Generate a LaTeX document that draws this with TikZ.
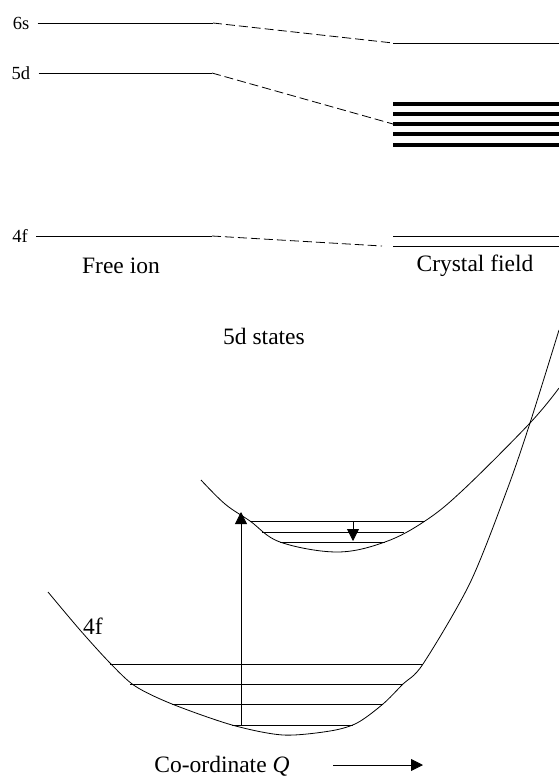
\documentclass[tikz,border=0pt]{standalone}
\usepackage{fontspec}
\setmainfont{Liberation Serif}
\usetikzlibrary{arrows.meta}
\tikzset{
  lvltext/.style={font=\fontsize{18.5}{22}\selectfont, inner sep=0pt},
  bigtext/.style={font=\fontsize{23.5}{28}\selectfont, inner sep=0pt},
  splitline/.style={dash pattern=on 9pt off 4pt},
  cfline/.style={line width=4pt},
  tip/.style={-{Triangle[length=12pt,width=12pt]}}
}
\begin{document}
\begin{tikzpicture}[x=1pt,y=-1pt,line width=0.8pt]
    \useasboundingbox (0,0) rectangle (559,777);

    % free ion levels
    \node[lvltext] (l6s) at (21,23) {6s};
    \node[lvltext] (l5d) at (21,73) {5d};
    \node[lvltext] (l4f) at (20,236) {4f};
    \coordinate (f6s) at (213,23);
    \coordinate (f5d) at (212,73);
    \coordinate (f4f) at (212,236);
    \draw ([xshift=8pt]l6s.east) -- (f6s);
    \draw ([xshift=8pt]l5d.east) -- (f5d);
    \draw ([xshift=8pt]l4f.east) -- (f4f);

    % crystal field levels
    \coordinate (c6s) at (393,43);
    \coordinate (c5d) at (393,124);
    \coordinate (c4f) at (382,246);
    \draw[splitline] (f6s) -- (c6s);
    \draw[splitline] (f5d) -- (c5d);
    \draw[splitline] (f4f) -- (c4f);
    \draw (c6s) -- (559,43);
    \foreach \y in {104,114,124,134,145}
        \draw[cfline] (393,\y) -- (559,\y);
    \draw (393,236) -- (559,236);
    \draw (393,246) -- (559,246);

    \node[bigtext] (freeion) at (121,266) {Free ion};
    \node[bigtext] (crystal) at (475,266) {Crystal field};

    % configurational coordinate curves
    \draw plot[smooth, tension=0.6] coordinates {(201,480) (225,504) (250,521) (280,542) (337,552) (385,542) (425,521) (463,490) (530,423) (559,388)};
    \draw plot[smooth, tension=0.5] coordinates {(48,592) (80,630) (110,663) (135,686) (172,704) (232,725) (283,735) (330,731) (357,723) (383,704) (403,684) (423,664) (470,583) (507,490) (530,423) (559,330)};

    \draw (250,521) -- (425,521);
    \draw (262,532) -- (404,532);
    \draw (280,542) -- (385,542);
    \draw (110,664) -- (423,664);
    \draw (130,684) -- (403,684);
    \draw (172,704) -- (383,704);
    \draw (232,725) -- (353,725);

    \node[bigtext] (states5d) at (264,336) {5d states};
    \node[bigtext] (curve4f) at (93,626) {4f};

    % transitions
    \coordinate (gnd) at (241,725);
    \coordinate (exc) at (241,512);
    \draw[tip] (gnd) -- (exc);
    \coordinate (relaxa) at (353,521);
    \coordinate (relaxb) at (353,541);
    \draw[tip] (relaxa) -- (relaxb);

    \node[bigtext] (coordq) at (222,766) {Co-ordinate \textit{Q}};
    \coordinate (qstart) at (333,765);
    \coordinate (qend) at (423,765);
    \draw[tip] (qstart) -- (qend);
\end{tikzpicture}
\end{document}
